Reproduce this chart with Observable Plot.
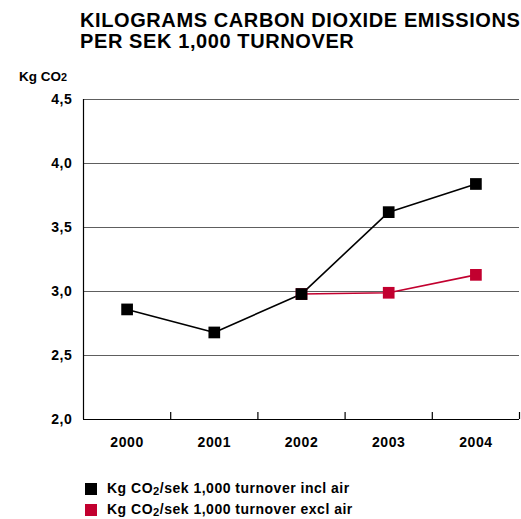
<!DOCTYPE html>
<html><head><meta charset="utf-8">
<script src="https://cdn.jsdelivr.net/npm/d3@7"></script>
<script src="https://cdn.jsdelivr.net/npm/@observablehq/plot@0.6"></script>
<style>
body{margin:0;background:#fff;}
#wrap{position:relative;width:521px;height:519px;font-family:"Liberation Sans",Arial,Helvetica,sans-serif;font-weight:bold;color:#000;}
.t{position:absolute;white-space:nowrap;}
.sw{position:absolute;width:12px;height:12px;}
sub{font-size:0.8em;vertical-align:-0.15em;line-height:0;}
#chart{position:absolute;left:0;top:0;}
</style></head><body><div id="wrap"><div id="chart"></div></div>
<script>
const titleLines = ["KILOGRAMS CARBON DIOXIDE EMISSIONS", "PER SEK 1,000 TURNOVER"];
const years = [2000, 2001, 2002, 2003, 2004];
const inclAir = [2.86, 2.68, 2.98, 3.62, 3.84];
const exclAirYears = [2002, 2003, 2004];
const exclAir = [2.98, 2.99, 3.13];
const yTicks = [2.0, 2.5, 3.0, 3.5, 4.0, 4.5];
const seriesNames = ["incl air", "excl air"];
const seriesColors = ["#000000", "#c2002f"];

const incl = years.map((y, i) => ({year: y, value: inclAir[i]}));
const excl = exclAirYears.map((y, i) => ({year: y, value: exclAir[i]}));
const bounds = years.map(y => y - 0.5).concat([years[years.length - 1] + 0.5]);
const yMin = yTicks[0], yMax = yTicks[yTicks.length - 1];

const chart = Plot.plot({
  width: 521, height: 519,
  marginLeft: 83, marginRight: 2, marginTop: 99, marginBottom: 100,
  style: {fontFamily: '"Liberation Sans", Arial, Helvetica, sans-serif', fontWeight: "bold", fontSize: "14px", letterSpacing: "0.6px", color: "#000", background: "transparent"},
  x: {type: "linear", domain: [bounds[0], bounds[bounds.length - 1]]},
  y: {domain: [yMin, yMax]},
  marks: [
    Plot.ruleY(yTicks.slice(1), {stroke: "#5e5e5e", strokeWidth: 1}),
    Plot.ruleY([yMin], {stroke: "#000", strokeWidth: 1.2}),
    Plot.ruleX([bounds[0]], {stroke: "#000", strokeWidth: 1.2}),
    Plot.ruleX(bounds.slice(1), {x: d => d, y1: yMin, y2: yMin, insetTop: -7, stroke: "#000", strokeWidth: 1.2}),
    Plot.axisY({ticks: yTicks, tickSize: 0, tickPadding: 11, label: null, tickFormat: d => d.toFixed(1).replace(".", ","), fontSize: 14, fontWeight: "bold"}),
    Plot.axisX({ticks: years, tickSize: 0, tickPadding: 18, label: null, tickFormat: d => String(d), fontSize: 14, fontWeight: "bold"}),
    Plot.line(incl, {x: "year", y: "value", stroke: seriesColors[0], strokeWidth: 1.6}),
    Plot.line(excl, {x: "year", y: "value", stroke: seriesColors[1], strokeWidth: 1.6}),
    Plot.dot(excl, {x: "year", y: "value", symbol: "square", r: 6.6, fill: seriesColors[1], stroke: "none"}),
    Plot.dot(incl, {x: "year", y: "value", symbol: "square", r: 6.6, fill: seriesColors[0], stroke: "none"})
  ]
});
document.getElementById("chart").appendChild(chart);

const wrap = document.getElementById("wrap");
const title = document.createElement("div");
title.className = "t";
title.style.cssText = "left:80px;top:10px;font-size:20px;line-height:21px;letter-spacing:0.6px;";
title.innerHTML = titleLines.join("<br>");
wrap.appendChild(title);

const unit = document.createElement("div");
unit.className = "t";
unit.style.cssText = "left:19px;top:69px;font-size:13.5px;line-height:16px;";
unit.innerHTML = "Kg CO<span style='font-size:0.8em'>2</span>";
wrap.appendChild(unit);

seriesNames.forEach((name, i) => {
  const top = 483 + i * 21;
  const sw = document.createElement("div");
  sw.className = "sw";
  sw.style.cssText = `left:85px;top:${top}px;background:${seriesColors[i]};`;
  wrap.appendChild(sw);
  const lab = document.createElement("div");
  lab.className = "t";
  lab.style.cssText = `left:107px;top:${top - 2}px;font-size:14px;line-height:15px;letter-spacing:0.5px;`;
  lab.innerHTML = `Kg CO<sub>2</sub>/sek 1,000 turnover ${name}`;
  wrap.appendChild(lab);
});
</script></body></html>
